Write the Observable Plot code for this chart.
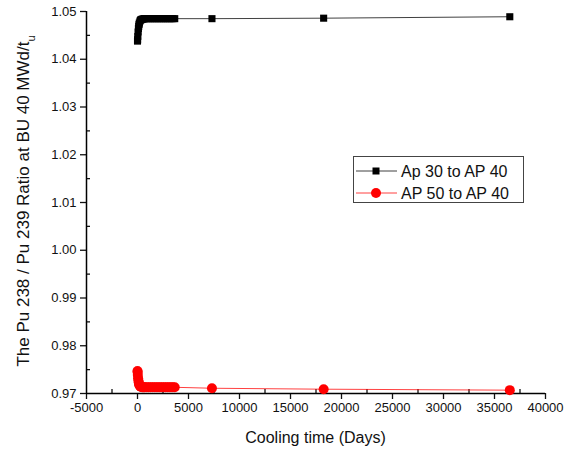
<!DOCTYPE html>
<html><head><meta charset="utf-8">
<script src="https://cdn.jsdelivr.net/npm/d3@7"></script>
<script src="https://cdn.jsdelivr.net/npm/@observablehq/plot@0.6"></script>
<style>body{margin:0;background:#fff} svg{display:block}</style>
</head><body><div id="chart"></div>
<script>
const coolingDays = [0, 10, 30, 60, 90, 120, 150, 180, 240, 300, 365, 456, 548, 639, 730, 913, 1095, 1278, 1460, 1643, 1825, 2008, 2190, 2373, 2555, 2738, 2920, 3103, 3285, 3468, 3650, 7300, 18250, 36500];
const ap30Ratio = [1.0438, 1.0441, 1.0448, 1.0457, 1.0464, 1.0469, 1.0473, 1.0476, 1.0480, 1.0482, 1.0483, 1.0484, 1.0484, 1.0485, 1.0485, 1.0485, 1.0485, 1.0485, 1.0485, 1.0485, 1.0485, 1.0485, 1.0485, 1.0485, 1.0485, 1.0485, 1.0485, 1.0485, 1.0485, 1.0485, 1.0485, 1.0485, 1.0486, 1.0489];
const ap50Ratio = [0.9747, 0.9745, 0.9739, 0.9732, 0.9727, 0.9723, 0.9720, 0.9718, 0.9716, 0.9714, 0.9714, 0.9713, 0.9713, 0.9713, 0.9713, 0.9713, 0.9713, 0.9713, 0.9713, 0.9713, 0.9713, 0.9713, 0.9713, 0.9713, 0.9713, 0.9713, 0.9713, 0.9713, 0.9713, 0.9713, 0.9713, 0.9711, 0.9709, 0.9707];
const seriesNames = ["Ap 30 to AP 40", "AP 50 to AP 40"];
const seriesColors = ["#000000", "#ff0000"];
const xMajorTicks = [-5000, 0, 5000, 10000, 15000, 20000, 25000, 30000, 35000, 40000];
const xMinorTicks = [-2500, 2500, 7500, 12500, 17500, 22500, 27500, 32500, 37500];
const yMajorTicks = [0.97, 0.98, 0.99, 1.00, 1.01, 1.02, 1.03, 1.04, 1.05];
const yMinorTicks = [0.975, 0.985, 0.995, 1.005, 1.015, 1.025, 1.035, 1.045];
const xTitle = "Cooling time (Days)";
const yTitleMain = "The Pu 238 / Pu 239 Ratio at BU 40 MWd/t";
const yTitleSub = "u";

const rowsA = coolingDays.map((t, i) => ({series: seriesNames[0], t, v: ap30Ratio[i]}));
const rowsB = coolingDays.map((t, i) => ({series: seriesNames[1], t, v: ap50Ratio[i]}));

const font = "'Liberation Sans', Arial, sans-serif";

const svg = Plot.plot({
  width: 571, height: 450,
  marginLeft: 86, marginRight: 26, marginTop: 11, marginBottom: 57,
  style: {fontFamily: font, fontSize: "13px", color: "#111", background: "#fff"},
  x: {domain: [-5000, 40000]},
  y: {domain: [0.97, 1.05]},
  color: {domain: seriesNames, range: seriesColors},
  marks: [
    Plot.axisX({ticks: xMajorTicks, tickSize: 6, tickPadding: 3, tickFormat: d => String(d), label: null, fontSize: 13, strokeWidth: 1.3}),
    Plot.axisX({ticks: xMinorTicks, tickSize: -4, tickFormat: () => "", label: null, strokeWidth: 1.3}),
    Plot.axisY({ticks: yMajorTicks, tickSize: 6, tickPadding: 4, tickFormat: d3.format(".2f"), label: null, fontSize: 13, strokeWidth: 1.3}),
    Plot.axisY({ticks: yMinorTicks, tickSize: -4, tickFormat: () => "", label: null, strokeWidth: 1.3}),
    Plot.ruleX([-5000], {stroke: "#000", strokeWidth: 1.5}),
    Plot.ruleY([0.97], {stroke: "#000", strokeWidth: 1.5}),
    Plot.line(rowsA, {x: "t", y: "v", stroke: "series", strokeWidth: 1, strokeOpacity: 0.75}),
    Plot.line(rowsB, {x: "t", y: "v", stroke: "series", strokeWidth: 1, strokeOpacity: 0.75}),
    Plot.dot(rowsA, {x: "t", y: "v", symbol: "square", r: 4, fill: "series", stroke: null}),
    Plot.dot(rowsB, {x: "t", y: "v", symbol: "circle", r: 5, fill: "series", stroke: null})
  ]
});

const s = d3.select(svg);
// axis titles
s.append("text")
  .attr("x", 315.5).attr("y", 443)
  .attr("text-anchor", "middle")
  .attr("font-family", font).attr("font-size", 16).attr("fill", "#111")
  .text(xTitle);
const yt = s.append("text")
  .attr("transform", "translate(29,201) rotate(-90)")
  .attr("text-anchor", "middle")
  .attr("font-family", font).attr("font-size", 17).attr("fill", "#111");
yt.append("tspan").text(yTitleMain);
yt.append("tspan").attr("font-size", 11).attr("baseline-shift", "sub").text(yTitleSub);

// legend
const lg = s.append("g");
lg.append("rect").attr("x", 353.5).attr("y", 156.5).attr("width", 170).attr("height", 46)
  .attr("fill", "#fff").attr("stroke", "#444").attr("stroke-width", 1);
seriesNames.forEach((name, i) => {
  const cy = 171 + i * 22;
  lg.append("line").attr("x1", 356).attr("x2", 397).attr("y1", cy).attr("y2", cy)
    .attr("stroke", seriesColors[i]).attr("stroke-width", 1).attr("stroke-opacity", 0.75);
  if (i === 0) {
    lg.append("rect").attr("x", 372.5).attr("y", cy - 3.5).attr("width", 7).attr("height", 7).attr("fill", seriesColors[i]);
  } else {
    lg.append("circle").attr("cx", 376).attr("cy", cy).attr("r", 5).attr("fill", seriesColors[i]);
  }
  lg.append("text").attr("x", 401).attr("y", cy + 5.5).attr("text-anchor", "start")
    .attr("font-family", font).attr("font-size", 16).attr("fill", "#111").text(name);
});

document.getElementById("chart").appendChild(svg);
</script>
</body></html>
